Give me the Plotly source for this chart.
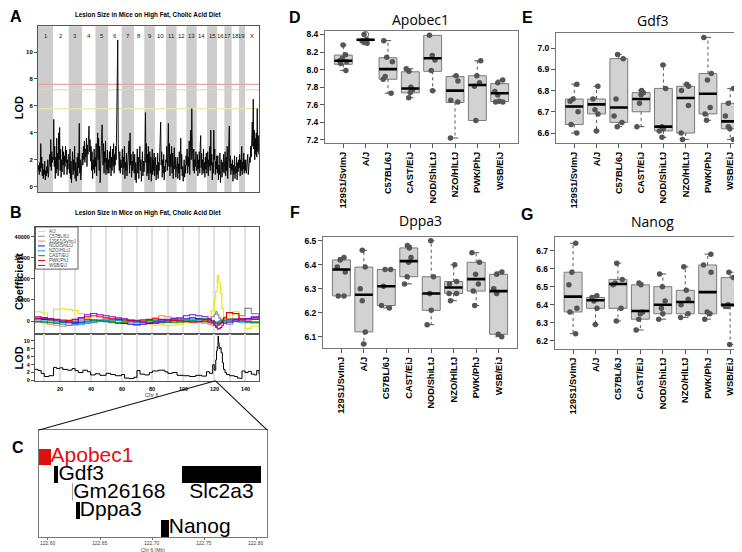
import numpy as np
import plotly.graph_objects as go

W, H = 742, 552
FONT = "Liberation Sans, Arial, sans-serif"


def px(x):
    return x / W


def py(y):
    return 1 - y / H


# ---------------- Panel A : genome scan ----------------
chrom_names = ["1", "2", "3", "4", "5", "6", "7", "8", "9", "10", "11", "12",
               "13", "14", "15", "16", "17", "18", "19", "X"]
chrom_len_cM = [99, 103, 88, 88, 84, 88, 81, 68, 70, 73, 70, 64, 68, 68, 66, 48, 48, 48, 40, 92]
lod_by_chrom = [
    [1.2, 1.6, 0.9, 1.8, 1.1, 3.2, 1.4, 2.2, 0.8, 1.7, 0.6, 1.3, 0.9, 1.9, 0.5, 1.2, 0.8, 1.5, 1.0, 2.0, 0.7, 1.4, 1.1, 2.4, 1.5, 3.5, 1.2, 2.6, 1.8, 2.2],
    [2.0, 5.0, 1.5, 3.0, 0.6, 2.2, 1.0, 3.6, 1.3, 2.5, 0.8, 4.0, 2.0, 4.4, 1.2, 2.8, 0.7, 2.0, 1.1, 3.0, 1.6, 2.6, 0.9, 2.3, 1.5, 3.0, 1.8, 2.7, 0.9, 2.0, 1.3, 2.4],
    [2.2, 1.0, 2.8, 0.6, 1.9, 0.3, 1.5, 2.6, 0.9, 2.0, 1.2, 3.0, 0.6, 1.8, 0.4, 1.3, 2.2, 0.8, 2.5, 1.4, 4.7, 1.0, 2.0, 0.5, 1.6, 1.1],
    [2.5, 1.6, 3.0, 2.0, 3.4, 1.8, 2.8, 2.2, 3.6, 1.5, 3.1, 2.4, 3.8, 4.5, 2.6, 3.5, 1.9, 3.0, 1.2, 2.6, 0.6, 2.0, 1.3, 2.8, 1.0, 2.2],
    [1.5, 3.2, 0.8, 2.5, 4.0, 2.0, 3.6, 1.2, 3.0, 0.3, 2.2, 1.5, 3.5, 4.6, 2.8, 1.6, 3.2, 1.0, 2.6, 1.8, 3.4, 0.9, 2.1, 1.3, 2.7, 1.0],
    [2.0, 1.0, 2.6, 1.4, 3.0, 0.8, 2.2, 1.2, 2.8, 1.5, 3.2, 1.0, 2.4, 1.6, 3.0, 2.0, 4.5, 7.9, 10.9, 3.2, 2.2, 1.2, 2.6, 1.0, 2.0, 1.4],
    [1.8, 2.8, 0.9, 2.2, 1.4, 3.0, 0.6, 1.8, 1.2, 2.5, 0.8, 2.0, 1.5, 2.7, 3.4, 1.0, 4.0, 1.6, 2.4, 0.7, 1.9, 1.2, 2.6, 1.5],
    [1.0, 2.4, 0.5, 1.8, 0.3, 1.5, 2.8, 1.0, 2.2, 0.6, 1.6, 3.0, 1.2, 2.0, 0.4, 1.4, 2.6, 0.8, 1.9, 1.1],
    [1.5, 2.8, 5.5, 1.8, 3.2, 0.8, 2.4, 1.0, 3.0, 0.5, 1.8, 2.6, 1.0, 2.2, 0.4, 1.5, 2.8, 0.9, 2.0, 1.2, 2.5, 0.8],
    [1.2, 2.2, 0.5, 1.6, 0.9, 2.5, 0.6, 1.8, 1.2, 2.9, 3.8, 4.8, 1.6, 2.6, 0.7, 2.0, 1.0, 2.4, 0.5, 1.5, 1.1, 2.0],
    [1.8, 3.0, 1.2, 2.6, 4.7, 1.5, 3.2, 0.8, 2.4, 1.5, 3.0, 1.0, 2.5, 0.6, 1.8, 2.9, 1.3, 2.2, 0.7, 1.6],
    [1.2, 2.2, 0.6, 1.7, 1.0, 2.6, 0.5, 1.9, 3.6, 1.3, 2.4, 0.8, 1.5, 0.4, 1.2, 2.0, 0.7, 1.6, 1.0, 2.3],
    [1.6, 2.8, 1.0, 2.2, 1.5, 3.4, 0.9, 2.6, 4.2, 2.0, 5.8, 3.0, 2.4, 1.2, 2.8, 1.0, 2.0, 1.5, 2.6, 1.2],
    [1.5, 2.4, 0.8, 2.0, 1.3, 2.6, 1.0, 3.0, 3.8, 1.4, 2.5, 0.9, 2.0, 1.2, 2.8, 1.0, 1.8, 0.7, 2.2, 1.3, 2.5, 1.0],
    [1.4, 2.6, 0.8, 2.0, 1.5, 3.0, 1.2, 4.2, 1.6, 2.4, 0.5, 1.8, 1.0, 4.2, 2.0, 2.8, 0.9, 1.9, 1.3, 2.3],
    [1.0, 2.3, 0.5, 1.6, 0.9, 2.5, 0.3, 1.4, 2.0, 0.7, 1.8, 1.1, 2.4, 1.0],
    [1.5, 2.6, 0.8, 2.2, 1.2, 3.0, 0.6, 1.8, 2.8, 4.5, 1.4, 2.3, 0.9, 1.7],
    [1.2, 2.0, 0.4, 1.6, 0.9, 2.3, 0.6, 1.5, 1.0, 2.2, 0.5, 1.8, 1.1, 2.0],
    [1.4, 2.4, 0.8, 2.0, 1.2, 3.0, 0.9, 1.8, 1.3, 2.5, 1.0, 2.0],
    [1.2, 2.0, 1.0, 1.8, 1.4, 2.4, 0.9, 1.6, 1.3, 2.2, 1.8, 3.0, 2.2, 3.4, 4.8, 3.0, 6.5, 2.8, 4.2, 2.0, 3.6, 2.4, 4.0, 2.2, 5.8, 2.6, 3.8, 2.4],
]
lod_ticks_a = [0, 2, 4, 6, 8, 10]
lod_thresholds = [7.6, 7.2, 5.8]
threshold_colors = ["#EBA4A4", "#EED49C", "#E9E7B4"]

# ---------------- Panel B : chr 6 coefficients and LOD ----------------
strain_legend = ["A/J", "C57BL/6J", "129S1/SvImJ", "NOD/ShiLtJ", "NZO/HlLtJ", "CAST/EiJ", "PWK/PhJ", "WSB/EiJ"]
strain_colors = ["#E8E800", "#888888", "#F08080", "#1010F0", "#00A0F0", "#00A000", "#F00000", "#9000E0"]
coef_pos = [4, 8, 12, 16, 20, 24, 28, 32, 36, 40, 44, 48, 52, 56, 60, 64, 68, 72, 76, 80, 84, 88, 92, 96,
            100, 104, 108, 112, 116, 118, 120, 121, 122, 123, 124, 125, 126, 128, 132, 136, 140, 144, 149]
coef_AJ = [4400, 3800, 200, 5600, 5800, 5400, 5000, 3600, 1500, 300, 0, -300, 200, -500, -800, -1000, -600, -1200, -1500, -2000,
           -1800, -2200, -2000, -1500, -800, -400, -600, 200, 1200, 5000, 10000, 14000, 21600, 18000, 13000, 6000, 2000, 300, 4400, 600,
           -3500, -2500, -1500]
coef_B6 = [1500, 1200, 800, 500, 0, -500, -800, -1200, -800, -500, 0, 300, 500, 800, 500, 0, -300, -500, -800, -500,
           0, 300, 500, 200, 0, -300, 0, 500, 800, 2000, 3000, 4400, 3000, 1500, 500, -500, -1000, -1500, 1000, 2500,
           6000, 3500, 1500]
coef_129 = [-500, -800, -1500, -2000, -2500, -2000, -1500, -1000, -500, 0, 500, 800, 1000, 500, 0, -500, -1000, -500, 0, 1500,
            2500, 2000, 1500, 1000, 500, 0, -500, -1000, -1500, -2000, -1500, -1000, -500, 0, 500, 1000, 1500, 1000, 500, 0,
            -500, -1000, -500]
coef_NOD = [1000, 800, 500, 0, -500, -800, -1000, -500, 0, 500, 300, 0, -500, -1000, -1200, -1500, -1800, -1500, -1200, -1000,
            -800, -500, 0, 500, 1000, 1500, 1200, 800, 500, 0, -500, -800, -1000, -1200, -800, -500, 0, 500, 800, 1000,
            1200, 1500, 1800]
coef_NZO = [500, 0, -500, -1000, -1500, -2000, -1800, -1500, -1000, -500, 0, 300, 500, 300, 0, -300, -500, -300, 0, 300,
            500, 800, 1000, 800, 500, 300, 0, -300, -500, -800, -1000, -800, -500, 0, 300, 500, 300, 0, -300, -500,
            -800, -500, 0]
coef_CAST = [-300, -500, -800, -1000, -800, -500, 0, 500, 800, 500, 0, -300, -500, -800, -500, 0, 300, 500, 300, 0,
             -300, -500, -800, -500, 0, 500, 800, 1000, 500, 0, -500, -1000, -1500, -1000, -500, 0, 500, 800, 500, 0,
             -300, -500, -300]
coef_PWK = [1200, 1500, 1000, 800, 500, 300, 800, 1500, 2000, 2500, 2000, 1500, 1000, 800, 500, 300, 0, 500, 800, 1000,
            800, 500, 300, 0, -300, -500, -300, 0, -500, -1000, -2000, -2500, -2000, -1500, -1000, 0, 1500, 4000, 3500, 1000,
            500, 800, 1200]
coef_WSB = [2000, 1500, 1000, 500, 0, -500, -500, 1500, 3000, 3600, 3000, 2500, 2000, 1500, 1000, 500, 0, -500, -800, -500,
            0, 500, 1000, 1500, 2500, 3000, 2500, 2000, 1000, 0, -2000, -3000, -3900, -3500, -3000, -2000, -1000, -500, 0, 500,
            1000, 2000, 2500]
coef_series = [coef_AJ, coef_B6, coef_129, coef_NOD, coef_NZO, coef_CAST, coef_PWK, coef_WSB]
coef_ticks = [0, 10000, 20000, 30000, 40000]

chr6_pos = [4, 6, 8, 10, 13, 16, 18, 20, 22, 25, 28, 30, 32, 35, 38, 40, 43, 46, 50, 53, 56, 60, 62, 65, 68, 70, 72, 75, 78, 80,
            84, 88, 90, 93, 96, 100, 104, 108, 112, 115, 117, 119, 120, 121, 121.5, 122, 122.5, 122.8, 123.2, 123.8, 124.5, 125.3,
            126, 127, 128, 130, 133, 135, 137, 138, 140, 142, 144, 146, 147.5, 149]
chr6_lod = [2.8, 2.5, 1.8, 1.0, 1.2, 3.3, 3.0, 3.2, 2.8, 2.6, 3.0, 2.5, 2.0, 2.6, 2.2, 1.4, 1.7, 1.3, 1.8, 1.5, 1.2, 1.5, 0.6, 0.5,
            0.8, 2.5, 1.6, 1.4, 2.0, 2.4, 2.6, 2.2, 1.8, 2.0, 1.3, 1.2, 1.0, 1.3, 1.1, 2.2, 1.8, 4.0, 2.6, 5.2, 7.5, 8.5, 11.2,
            9.5, 8.0, 8.3, 7.0, 4.5, 2.8, 2.0, 1.5, 1.2, 1.0, 0.6, 0.5, 2.4, 2.0, 2.3, 1.6, 1.4, 2.5, 1.6]
chr6_ticks = [20, 40, 60, 80, 100, 120, 140]
chr6_grid = [10, 20, 30, 40, 50, 60, 70, 80, 90, 100, 110, 120, 130, 140]

# ---------------- Panel C : genes ----------------
gene_names = ["Apobec1", "Gdf3", "Gm26168", "Dppa3", "Nanog", "Slc2a3"]
gene_start = [122.578, 122.6055, 122.6238, 122.6265, 122.7085, 122.7287]
gene_end = [122.6025, 122.6101, 122.6242, 122.6306, 122.7160, 122.8045]
gene_row = [5, 4, 3, 2, 1, 4]
gene_colors = ["#E01010", "#000000", "#A0A0A0", "#000000", "#000000", "#000000"]
mb_ticks = [122.60, 122.65, 122.70, 122.75, 122.80]

# ---------------- Panels D-G : expression by strain ----------------
strains = ["129S1/SvImJ", "A/J", "C57BL/6J", "CAST/EiJ", "NOD/ShiLtJ", "NZO/HlLtJ", "PWK/PhJ", "WSB/EiJ"]

apobec1_points = [[8.28, 8.17, 8.13, 8.10, 8.09, 8.07, 7.99], [8.40, 8.34, 8.33, 8.31, 8.30],
                  [8.33, 8.14, 8.09, 7.92, 7.89, 7.73], [8.01, 7.98, 7.80, 7.77, 7.74, 7.68],
                  [8.39, 8.16, 8.11, 7.99, 7.76], [7.93, 7.87, 7.65, 7.63, 7.22],
                  [8.10, 7.93, 7.85, 7.81, 7.42], [7.88, 7.85, 7.75, 7.71, 7.64, 7.63, 7.63]]
apobec1_q1 = [8.06, 8.33, 7.89, 7.735, 7.98, 7.625, 7.42, 7.635]
apobec1_med = [8.10, 8.34, 8.005, 7.785, 8.13, 7.76, 7.825, 7.73]
apobec1_q3 = [8.165, 8.345, 8.135, 7.975, 8.39, 7.92, 7.93, 7.84]
apobec1_wlo = [7.99, 8.30, 7.73, 7.68, 7.76, 7.22, 7.42, 7.63]
apobec1_whi = [8.28, 8.345, 8.33, 8.01, 8.39, 7.93, 8.10, 7.88]
apobec1_outliers = [[], [8.40], [], [], [], [], [], []]

gdf3_points = [[6.83, 6.76, 6.75, 6.70, 6.64, 6.60], [6.82, 6.76, 6.71, 6.69, 6.61],
               [6.97, 6.95, 6.76, 6.68, 6.65, 6.63], [6.80, 6.79, 6.78, 6.74, 6.63],
               [6.92, 6.81, 6.63, 6.62, 6.61, 6.58], [6.83, 6.82, 6.80, 6.73, 6.60, 6.57],
               [7.05, 6.88, 6.85, 6.72, 6.69, 6.66], [6.81, 6.74, 6.68, 6.63, 6.62, 6.57]]
gdf3_q1 = [6.64, 6.69, 6.65, 6.70, 6.61, 6.60, 6.69, 6.62]
gdf3_med = [6.725, 6.735, 6.72, 6.76, 6.63, 6.765, 6.785, 6.655]
gdf3_q3 = [6.76, 6.76, 6.95, 6.79, 6.81, 6.82, 6.88, 6.74]
gdf3_wlo = [6.60, 6.61, 6.63, 6.63, 6.58, 6.57, 6.66, 6.57]
gdf3_whi = [6.83, 6.82, 6.97, 6.80, 6.92, 6.83, 7.05, 6.81]

dppa3_points = [[6.43, 6.42, 6.39, 6.37, 6.27, 6.27], [6.46, 6.39, 6.30, 6.25, 6.12, 6.07],
                [6.38, 6.38, 6.31, 6.23, 6.22], [6.48, 6.47, 6.43, 6.41, 6.35, 6.32],
                [6.50, 6.35, 6.28, 6.21, 6.15], [6.40, 6.33, 6.32, 6.28, 6.28, 6.25],
                [6.45, 6.41, 6.36, 6.32, 6.29, 6.23], [6.37, 6.36, 6.30, 6.28, 6.11, 6.10]]
dppa3_q1 = [6.27, 6.12, 6.23, 6.35, 6.21, 6.28, 6.29, 6.11]
dppa3_med = [6.38, 6.275, 6.31, 6.415, 6.28, 6.305, 6.34, 6.29]
dppa3_q3 = [6.42, 6.39, 6.38, 6.47, 6.35, 6.33, 6.41, 6.36]
dppa3_wlo = [6.27, 6.07, 6.22, 6.32, 6.15, 6.25, 6.23, 6.10]
dppa3_whi = [6.43, 6.46, 6.38, 6.48, 6.50, 6.40, 6.45, 6.37]

nanog_points = [[6.74, 6.58, 6.51, 6.38, 6.36, 6.24], [6.45, 6.44, 6.42, 6.38, 6.29],
                [6.63, 6.54, 6.52, 6.51, 6.38, 6.31], [6.52, 6.51, 6.36, 6.35, 6.32, 6.26],
                [6.57, 6.50, 6.42, 6.38, 6.35, 6.32], [6.61, 6.48, 6.43, 6.40, 6.35, 6.33],
                [6.68, 6.62, 6.58, 6.36, 6.35, 6.32], [6.58, 6.55, 6.40, 6.39, 6.39, 6.18]]
nanog_q1 = [6.36, 6.38, 6.38, 6.32, 6.35, 6.35, 6.35, 6.39]
nanog_med = [6.445, 6.425, 6.515, 6.365, 6.40, 6.415, 6.47, 6.40]
nanog_q3 = [6.58, 6.44, 6.54, 6.51, 6.50, 6.48, 6.62, 6.55]
nanog_wlo = [6.24, 6.29, 6.31, 6.26, 6.32, 6.33, 6.32, 6.18]
nanog_whi = [6.74, 6.45, 6.63, 6.52, 6.57, 6.61, 6.68, 6.58]

fig = go.Figure()
annotations = []
shapes = []


def note(x, y, text, size, color="black", bold=False, family=FONT, xanchor="center", angle=0):
    f = dict(size=size, family=family, color=color)
    if bold:
        f["weight"] = "bold"
    annotations.append(dict(x=px(x), y=py(y), xref="paper", yref="paper", text=text, showarrow=False,
                            xanchor=xanchor, yanchor="middle", textangle=angle, font=f))


# ---------- Panel A ----------
starts = np.concatenate([[0], np.cumsum(chrom_len_cM)[:-1]])
total_cM = float(sum(chrom_len_cM))
xa, ya = [], []
for s, L, vals in zip(starts, chrom_len_cM, lod_by_chrom):
    n = len(vals)
    xa.extend((s + (np.arange(n) + 0.5) / n * L).tolist())
    ya.extend(vals)
for i, (s, L, name) in enumerate(zip(starts, chrom_len_cM, chrom_names)):
    if i % 2 == 0:
        shapes.append(dict(type="rect", xref="x", yref="y domain", x0=float(s), x1=float(s + L), y0=0, y1=1,
                           fillcolor="#CDCDCD", line_width=0, layer="below"))
    annotations.append(dict(x=float(s + L / 2), y=11.2, xref="x", yref="y", text=name, showarrow=False,
                            xanchor="center", yanchor="middle", font=dict(size=6, family=FONT, color="#222")))
for t, c in zip(lod_thresholds, threshold_colors):
    shapes.append(dict(type="line", xref="x domain", yref="y", x0=0, x1=1, y0=t, y1=t,
                       line=dict(color=c, width=1.2), layer="below"))
fig.add_trace(go.Scatter(x=xa, y=ya, mode="lines", line=dict(color="black", width=0.9),
                         xaxis="x", yaxis="y", hoverinfo="skip"))

# ---------- Panel B ----------
for name, col, ser in zip(strain_legend, strain_colors, coef_series):
    fig.add_trace(go.Scatter(x=coef_pos, y=ser, mode="lines", line=dict(color=col, width=1.1, shape="hv"),
                             xaxis="x2", yaxis="y2", name=name, hoverinfo="skip"))
fig.add_trace(go.Scatter(x=chr6_pos, y=chr6_lod, mode="lines", line=dict(color="black", width=1, shape="hv"),
                         xaxis="x3", yaxis="y3", hoverinfo="skip"))
shapes.append(dict(type="rect", xref="paper", yref="paper", x0=px(27.5), x1=px(70), y0=py(262), y1=py(219.5),
                   fillcolor="white", line=dict(color="#333", width=0.8)))
for i, (name, col) in enumerate(zip(strain_legend, strain_colors)):
    yy = 224 + i * 4.9
    shapes.append(dict(type="line", xref="paper", yref="paper", x0=px(30), x1=px(37), y0=py(yy), y1=py(yy),
                       line=dict(color=col, width=1)))
    note(39, yy, name, 4.5, color="#444", xanchor="left")
for t in chr6_ticks:
    annotations.append(dict(x=t, y=py(382.5), xref="x3", yref="paper", text=str(t), showarrow=False,
                            xanchor="center", yanchor="middle",
                            font=dict(size=5.5, family=FONT, color="black", weight="bold")))

# ---------- Panel C ----------
fig.add_trace(go.Bar(orientation="h", y=gene_row, x=[e - s for s, e in zip(gene_start, gene_end)], base=gene_start,
                     width=0.92, marker=dict(color=gene_colors, line=dict(color=gene_colors, width=[0, 0, 1, 0, 0, 0])),
                     xaxis="x4", yaxis="y4", hoverinfo="skip"))
fig.add_trace(go.Scatter(x=gene_end[:5], y=gene_row[:5], mode="text", text=gene_names[:5], textposition="middle right",
                         textfont=dict(size=21, family=FONT, color=["#E01010", "black", "black", "black", "black"]),
                         xaxis="x4", yaxis="y4", cliponaxis=True, hoverinfo="skip"))
fig.add_trace(go.Scatter(x=[(gene_start[5] + gene_end[5]) / 2], y=[gene_row[5] - 1], mode="text", text=[gene_names[5]],
                         textposition="middle center", textfont=dict(size=21, family=FONT, color="black"),
                         xaxis="x4", yaxis="y4", cliponaxis=True, hoverinfo="skip"))
for t in mb_ticks:
    annotations.append(dict(x=t, y=py(537.5), xref="x4", yref="paper", text=f"{t:.2f}", showarrow=False,
                            xanchor="center", yanchor="middle", font=dict(size=5, family=FONT, color="#444")))

for xend in (31, 259):
    shapes.append(dict(type="line", xref="paper", yref="paper", x0=px(207.5), y0=py(374.5), x1=px(xend), y1=py(424),
                       line=dict(color="#111", width=1.1)))

# ---------- Panels D-G ----------
panels = [
    dict(title="Apobec1", letter="D", ax=5, pts=apobec1_points, q1=apobec1_q1, med=apobec1_med, q3=apobec1_q3,
         wlo=apobec1_wlo, whi=apobec1_whi, out=apobec1_outliers, xd=(317, 510), yd=(135, 21.7),
         yr=(7.163, 8.445), ticks=[7.2, 7.4, 7.6, 7.8, 8.0, 8.2, 8.4], ttl=(412, 11), let=(287, 9)),
    dict(title="Gdf3", letter="E", ax=6, pts=gdf3_points, q1=gdf3_q1, med=gdf3_med, q3=gdf3_q3,
         wlo=gdf3_wlo, whi=gdf3_whi, out=None, xd=(548, 740.5), yd=(135, 24),
         yr=(6.553, 7.0715), ticks=[6.6, 6.7, 6.8, 6.9, 7.0], ttl=(644, 12), let=(519, 9)),
    dict(title="Dppa3", letter="F", ax=7, pts=dppa3_points, q1=dppa3_q1, med=dppa3_med, q3=dppa3_q3,
         wlo=dppa3_wlo, whi=dppa3_whi, out=None, xd=(315, 509), yd=(341.7, 229.3),
         yr=(6.052, 6.517), ticks=[6.1, 6.2, 6.3, 6.4, 6.5], ttl=(412, 213), let=(287, 205)),
    dict(title="Nanog", letter="G", ax=8, pts=nanog_points, q1=nanog_q1, med=nanog_med, q3=nanog_q3,
         wlo=nanog_wlo, whi=nanog_whi, out=None, xd=(546.7, 740.5), yd=(342.3, 230),
         yr=(6.156, 6.773), ticks=[6.2, 6.3, 6.4, 6.5, 6.6, 6.7], ttl=(644, 214), let=(519, 207)),
]

layout_axes = {}
cat_pos = list(range(1, len(strains) + 1))
for p in panels:
    xr, yr_ = f"x{p['ax']}", f"y{p['ax']}"
    fig.add_trace(go.Box(x=cat_pos, q1=p["q1"], median=p["med"], q3=p["q3"], lowerfence=p["q1"], upperfence=p["q3"],
                         width=0.8, whiskerwidth=0, boxpoints=False, fillcolor="#D2D2D2",
                         line=dict(color="#7A7A7A", width=1), xaxis=xr, yaxis=yr_, hoverinfo="skip"))
    wx, wy, cx, cy, mx, my = [], [], [], [], [], []
    for i, (a, m, b, lo, hi) in enumerate(zip(p["q1"], p["med"], p["q3"], p["wlo"], p["whi"])):
        c = cat_pos[i]
        if hi > b + 1e-9:
            wx += [c, c, None]; wy += [b, hi, None]
            cx += [c - 0.14, c + 0.14, None]; cy += [hi, hi, None]
        if lo < a - 1e-9:
            wx += [c, c, None]; wy += [a, lo, None]
            cx += [c - 0.14, c + 0.14, None]; cy += [lo, lo, None]
        mx += [c - 0.4, c + 0.4, None]; my += [m, m, None]
    fig.add_trace(go.Scatter(x=wx, y=wy, mode="lines", line=dict(color="#555", width=1, dash="dot"),
                             xaxis=xr, yaxis=yr_, hoverinfo="skip"))
    fig.add_trace(go.Scatter(x=cx, y=cy, mode="lines", line=dict(color="#555", width=1),
                             xaxis=xr, yaxis=yr_, hoverinfo="skip"))
    fig.add_trace(go.Scatter(x=mx, y=my, mode="lines", line=dict(color="black", width=2.6),
                             xaxis=xr, yaxis=yr_, hoverinfo="skip"))
    if p["out"]:
        ox, oy = [], []
        for i, vals in enumerate(p["out"]):
            for v in vals:
                ox.append(cat_pos[i]); oy.append(v)
        fig.add_trace(go.Scatter(x=ox, y=oy, mode="markers",
                                 marker=dict(symbol="circle-open", size=6, color="#555", line=dict(width=1)),
                                 xaxis=xr, yaxis=yr_, hoverinfo="skip"))
    flat_x, flat_y = [], []
    for i, vals in enumerate(p["pts"]):
        flat_x += [cat_pos[i]] * len(vals)
        flat_y += vals
    fig.add_trace(go.Box(x=flat_x, y=flat_y, boxpoints="all", jitter=0.55, pointpos=0, width=0.8,
                         fillcolor="rgba(0,0,0,0)", line=dict(width=0, color="rgba(0,0,0,0)"), whiskerwidth=0,
                         marker=dict(color="#555555", size=5.5), xaxis=xr, yaxis=yr_, hoverinfo="skip"))
    layout_axes[f"xaxis{p['ax']}"] = dict(
        domain=[px(p["xd"][0]), px(p["xd"][1])], range=[0.18, 8.82], anchor=yr_,
        tickvals=cat_pos, ticktext=strains, tickangle=-90, ticks="outside", ticklen=4, tickcolor="#555",
        tickfont=dict(size=9.3, family=FONT, color="black", weight="bold"),
        showline=True, mirror=True, linecolor="#777", linewidth=1, showgrid=False, zeroline=False)
    layout_axes[f"yaxis{p['ax']}"] = dict(
        domain=[py(p["yd"][0]), py(p["yd"][1])], range=list(p["yr"]), anchor=xr,
        tickvals=p["ticks"], tickformat=".1f", ticks="outside", ticklen=4, tickcolor="#555",
        tickfont=dict(size=8.5, family=FONT, color="black", weight="bold"),
        showline=True, mirror=True, linecolor="#777", linewidth=1, showgrid=False, zeroline=False)
    note(p["ttl"][0], p["ttl"][1], p["title"], 14, family="Open Sans, Liberation Sans")
    note(p["let"][0], p["let"][1], p["letter"], 16, bold=True)

# ---------- texts ----------
title_txt = "Lesion Size in Mice on High Fat, Cholic Acid Diet"
note(8, 8, "A", 16, bold=True)
note(8, 205, "B", 16, bold=True)
note(10, 442, "C", 16, bold=True)
note(140, 6, title_txt, 6.3, bold=True)
note(140, 205, title_txt, 6.3, bold=True)
note(11, 100, "LOD", 11, bold=True, angle=-90)
note(11, 275, "Coefficient", 11, bold=True, angle=-90)
note(11, 352, "LOD", 11, bold=True, angle=-90)
note(143, 389, "Chr 6", 5.5, color="#333")
note(145, 545, "Chr 6 (Mb)", 5, color="#444")

frame = dict(showline=True, mirror=True, linecolor="#555", linewidth=1, zeroline=False)
grid_b = dict(showgrid=True, gridcolor="#E2E2E2", gridwidth=2)

fig.update_layout(
    width=W, height=H, margin=dict(l=0, r=0, t=0, b=0), showlegend=False,
    paper_bgcolor="white", plot_bgcolor="white", boxmode="overlay", bargap=0,
    annotations=annotations, shapes=shapes,
    xaxis=dict(domain=[px(30), px(251)], range=[0, total_cM], showticklabels=False, ticks="", showgrid=False,
               anchor="y", **frame),
    yaxis=dict(domain=[py(184.3), py(17.3)], range=[-0.39, 11.92], tickvals=lod_ticks_a, ticks="outside",
               ticklen=3, tickcolor="#555", tickfont=dict(size=6, family=FONT, color="black", weight="bold"),
               showgrid=False, anchor="x", **frame),
    xaxis2=dict(domain=[px(27), px(251)], range=[4, 149], tickvals=chr6_grid, showticklabels=False,
                ticks="", anchor="y2", **grid_b, **frame),
    yaxis2=dict(domain=[py(327.7), py(219.3)], range=[-6300, 44700], tickvals=coef_ticks,
                ticktext=[str(v) for v in coef_ticks],
                ticks="outside", ticklen=3, tickcolor="#555", showgrid=False, anchor="x2",
                tickfont=dict(size=5.5, family=FONT, color="black", weight="bold"), **frame),
    xaxis3=dict(domain=[px(27), px(251)], range=[4, 149], tickvals=chr6_grid,
                ticktext=["" for _ in chr6_grid], ticks="", anchor="y3", **grid_b, **frame),
    yaxis3=dict(domain=[py(374.3), py(327.7)], range=[-0.03, 11.66], tickvals=[0, 2, 4, 6, 8, 10], ticks="outside",
                ticklen=3, tickcolor="#555", showgrid=False, anchor="x3",
                tickfont=dict(size=5.5, family=FONT, color="black", weight="bold"), **frame),
    xaxis4=dict(domain=[px(31), px(259)], range=[122.5914, 122.8103], tickvals=mb_ticks,
                ticktext=["" for _ in mb_ticks], ticks="outside", ticklen=2, tickcolor="#777", showgrid=False,
                anchor="y4", showline=True, mirror=True, linecolor="#777", linewidth=1, zeroline=False),
    yaxis4=dict(domain=[py(532), py(424)], range=[0.5, 6.5], showticklabels=False, ticks="", showgrid=False,
                anchor="x4", showline=True, mirror=True, linecolor="#777", linewidth=1, zeroline=False),
    **layout_axes,
)

fig.write_html("out.html")
